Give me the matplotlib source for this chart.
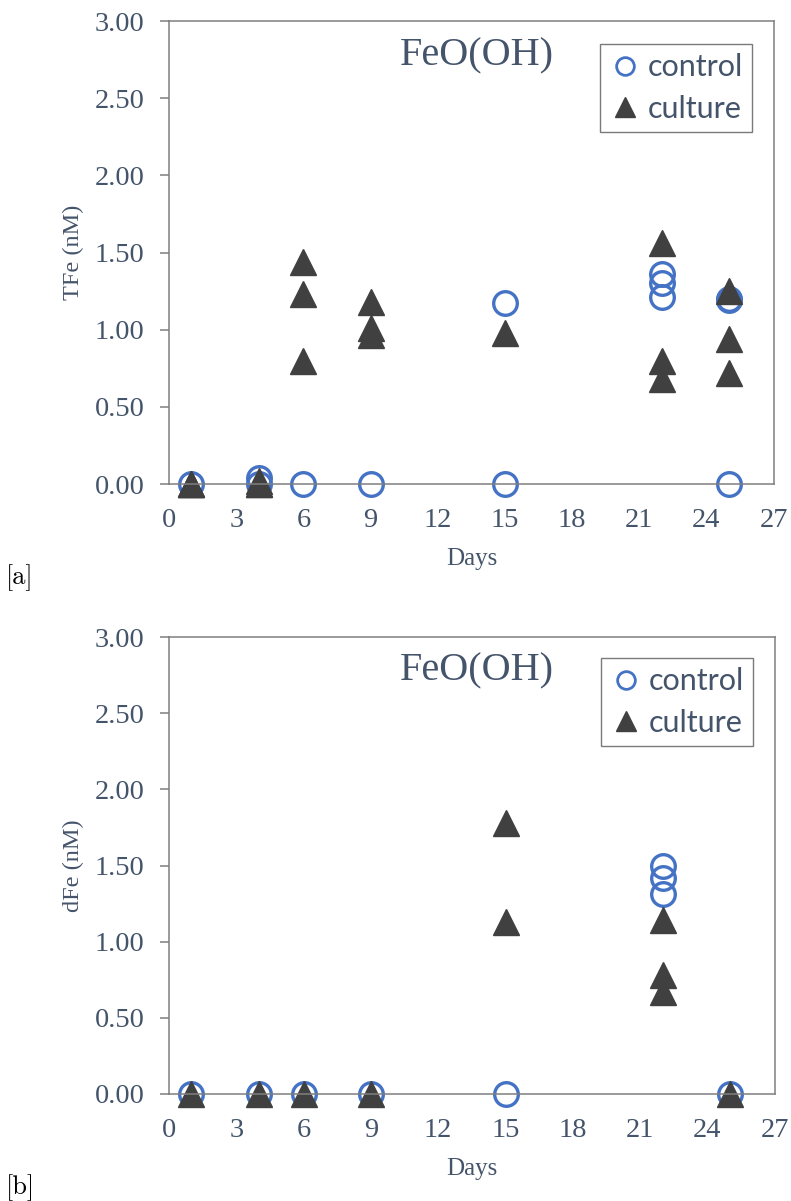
import matplotlib.pyplot as plt

plt.rcParams['font.family'] = ['Liberation Serif', 'DejaVu Serif']

# Panel [a]: total Fe
tfe_ctrl_days = [1, 4, 4, 6, 9, 15, 15, 22, 22, 22, 25, 25, 25]
tfe_ctrl = [0.0, 0.0, 0.04, 0.0, 0.0, 1.17, 0.0, 1.36, 1.30, 1.21, 1.20, 1.19, 0.0]
tfe_cult_days = [1, 1, 1, 4, 4, 4, 6, 6, 6, 9, 9, 9, 15, 22, 22, 22, 25, 25, 25]
tfe_cult = [0.0, 0.0, 0.0, 0.0, 0.02, 0.0, 1.44, 1.23, 0.80, 1.18, 1.01, 0.965,
            0.98, 1.56, 0.80, 0.68, 1.25, 0.94, 0.72]

# Panel [b]: dissolved Fe
dfe_ctrl_days = [1, 4, 6, 9, 15, 22, 22, 22, 25]
dfe_ctrl = [0.0, 0.0, 0.0, 0.0, 0.0, 1.50, 1.42, 1.31, 0.0]
dfe_cult_days = [1, 4, 6, 9, 15, 15, 22, 22, 22, 25]
dfe_cult = [0.0, 0.0, 0.0, 0.0, 1.78, 1.13, 1.14, 0.78, 0.67, 0.0]

x_ticks = [0, 3, 6, 9, 12, 15, 18, 21, 24, 27]
y_ticks = [0.0, 0.5, 1.0, 1.5, 2.0, 2.5, 3.0]

TXT = '#44546A'
BLUE = '#4472C4'
DARK = '#404040'
SPINE = '#7F7F7F'

fig = plt.figure(figsize=(7.91, 12.01), dpi=100)
ax_a = fig.add_axes([0.2137, 0.597, 0.7644, 0.3855])
ax_b = fig.add_axes([0.2137, 0.0891, 0.7657, 0.3805])


def draw(ax, cd, cv, ud, uv, ylab, leg_top):
    ax.plot(cd, cv, linestyle='none', marker='o', markersize=17, markerfacecolor='none',
            markeredgecolor=BLUE, markeredgewidth=2.4, label='control', clip_on=False)
    ax.plot(ud, uv, linestyle='none', marker='^', markersize=19, color=DARK,
            label='culture', clip_on=False)
    ax.set_xlim(0, 27)
    ax.set_ylim(0, 3)
    ax.set_xticks(x_ticks)
    ax.set_yticks(y_ticks)
    ax.set_yticklabels(['%.2f' % v for v in y_ticks])
    for s in ax.spines.values():
        s.set_color(SPINE)
        s.set_linewidth(1.1)
    ax.tick_params(axis='y', direction='out', length=6.5, width=1.1, color=SPINE,
                   pad=11, labelsize=20.5, labelcolor=TXT)
    ax.tick_params(axis='x', length=0, pad=17, labelsize=20.5, labelcolor=TXT)
    ax.set_xlabel('Days', fontsize=18, color=TXT, labelpad=11)
    ax.set_ylabel(ylab, fontsize=17.5, color=TXT, labelpad=8)
    ax.text(0.509, 0.925, 'FeO(OH)', transform=ax.transAxes, ha='center', va='center',
            fontsize=29, color=TXT)
    leg = ax.legend(loc='upper right', bbox_to_anchor=(0.964, leg_top), borderaxespad=0,
                    frameon=True, fancybox=False, edgecolor='#595959', handletextpad=0.25,
                    handlelength=1.0, borderpad=0.3, labelspacing=0.45, markerscale=0.75,
                    prop={'family': 'Lato', 'size': 22})
    leg.get_frame().set_linewidth(1.0)
    leg.legend_handles[0].set_markeredgewidth(2.0)
    for t in leg.get_texts():
        t.set_color(TXT)


draw(ax_a, tfe_ctrl_days, tfe_ctrl, tfe_cult_days, tfe_cult, 'TFe (nM)', 0.950)
draw(ax_b, dfe_ctrl_days, dfe_ctrl, dfe_cult_days, dfe_cult, 'dFe (nM)', 0.954)

fig.text(0.008, 1 - 578 / 1201, '[a]', fontsize=19, family='cmr10', va='center', ha='left')
fig.text(0.008, 1 - 1188 / 1201, '[b]', fontsize=19, family='cmr10', va='center', ha='left')

fig.savefig('out.png', dpi=100, facecolor='white')
